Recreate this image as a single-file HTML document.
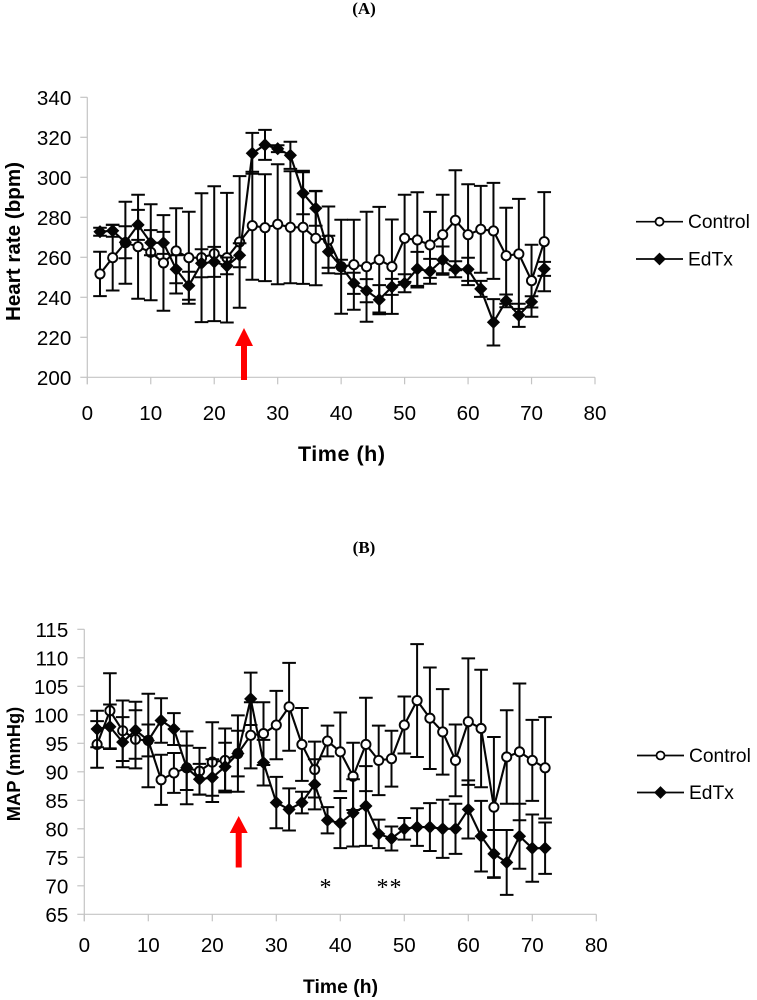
<!DOCTYPE html>
<html>
<head>
<meta charset="utf-8">
<title>Heart rate and MAP over time</title>
<style>
html,body{margin:0;padding:0;background:#fff;}
svg{display:block;}
text{font-family:"Liberation Sans",sans-serif;fill:#000;}
.serif{font-family:"Liberation Serif",serif;}
.tick{font-size:20.6px;}
.title{font-weight:bold;}
.legend{font-size:19.2px;}
</style>
</head>
<body>
<svg id="fig" width="757" height="1000" viewBox="0 0 757 1000" xmlns="http://www.w3.org/2000/svg">
  <text class="serif" x="364" y="14" text-anchor="middle" font-size="17" font-weight="bold">(A)</text>
  <text class="serif" x="364" y="553" text-anchor="middle" font-size="17" font-weight="bold">(B)</text>
  <text class="title" transform="translate(20,241.5) rotate(-90)" text-anchor="middle" font-size="20.6">Heart rate (bpm)</text>
  <text class="title" transform="translate(20,764) rotate(-90)" text-anchor="middle" font-size="18.3">MAP (mmHg)</text>
  <text class="title" x="298" y="461" font-size="21.5" textLength="87" lengthAdjust="spacing">Time (h)</text>
  <text class="title" x="303" y="993" font-size="19.3" textLength="75" lengthAdjust="spacing">Time (h)</text>
  <text class="serif" x="325.5" y="895" text-anchor="middle" font-size="24">*</text>
  <text class="serif" x="389.5" y="895" text-anchor="middle" font-size="24" letter-spacing="1">**</text>
  <g id="chartA"></g>
  <g id="chartB"></g>
  <polygon fill="#ff0000" points="244,328 253,346 247,346 247,380 241,380 241,346 235,346"/>
  <polygon fill="#ff0000" points="238.7,816 247.7,833 241.7,833 241.7,867.5 235.7,867.5 235.7,833 229.7,833"/>
</svg>
<script>
const hours = [2,4,6,8,10,12,14,16,18,20,22,24,26,28,30,32,34,36,38,40,42,44,46,48,50,52,54,56,58,60,62,64,66,68,70,72];
const xTickLabels = [0,10,20,30,40,50,60,70,80];
const hrTickLabels = [200,220,240,260,280,300,320,340];
const mapTickLabels = [65,70,75,80,85,90,95,100,105,110,115];

const hrControl = [251.7,259.8,267.3,265.3,262.5,257.2,263.2,259.8,259.8,261.8,259.8,267.7,275.8,274.8,276.5,275,275,269.5,268.7,255.3,256.3,255.3,258.8,255.3,269.5,268.7,266.2,271.3,278.5,271.3,274,273.2,260.8,261.7,248.3,267.8];
const hrControlErr = [11.1,16.4,20.5,26,24,23.9,21.3,23,32.2,33.7,32.4,32.9,27,26.7,30,28,28.3,23.5,16.7,23.5,22.5,27.5,26.4,23.6,21.8,23.8,16.5,20,25,25.2,21.7,24,24,27.5,18,24.8];
const hrEdTx = [272.8,273.3,267.5,276.2,267.3,267.2,254,245.8,257,257.7,255.7,261,312,316.2,314.3,311,292,284.5,262.8,255.3,247,243.3,238.8,245.2,247,254.2,253,258.7,254,254,244.2,227.5,238.2,231,237.7,254.2];
const hrEdTxErr = [2,3,8,7.5,6.3,5.5,7,7,7,7.5,4.2,6,10.2,7.5,1.7,6.8,10.5,8.7,8,3.5,5.3,5.8,7.3,4,4.5,8.5,6.2,6.7,4,5.8,4,11.6,3.2,5.8,2.8,3.5];

const mapControl = [94.8,100.7,97.2,95.7,95.5,88.6,89.8,90.7,90.1,91.7,92,93.2,96.4,96.7,98.2,101.4,94.8,90.4,95.4,93.5,89.2,94.8,92,92.3,98.2,102.5,99.4,97,92,98.8,97.6,83.8,92.6,93.5,92,90.7];
const mapControlErr = [4.1,6.6,5.3,5.1,8.2,4.4,3.5,6.4,4.1,7,5.6,6.7,5.8,5.5,6,7.7,6.4,4.9,2.7,6.9,5.9,8.2,6.1,4.9,5,9.9,8.9,7.5,6.3,11.1,10.3,12.3,8.2,12,7.1,8.9];
const mapEdTx = [97.5,97.9,95.2,97.3,95.5,99,97.5,90.7,88.7,89,90.9,93.2,102.8,91.6,84.6,83.4,84.6,87.8,81.5,81,82.8,84,79.1,78.3,80,80.3,80.3,80,80,83.4,78.7,75.6,74.1,78.7,76.6,76.6];
const mapEdTxErr = [3.2,3.9,4.4,5,2.8,3.9,2.8,3.9,2.7,3.2,4.2,4,4.6,4,4.5,3.7,1.9,4.4,2.3,4.4,5.9,7,2.5,2.1,1.9,3.3,4.2,5.1,4.4,5.1,6.2,4.2,5.7,5.7,5.9,4.5];

const NS = 'http://www.w3.org/2000/svg';
const AXIS_COLOR = '#c4c4c4';
const INK = '#050505';

function mk(parent, tag, attrs) {
  const el = document.createElementNS(NS, tag);
  for (const k in attrs) el.setAttribute(k, attrs[k]);
  parent.appendChild(el);
  return el;
}

function scale(d0, d1, r0, r1) {
  return v => r0 + (v - d0) * (r1 - r0) / (d1 - d0);
}

function diamondPoints(cx, cy, r) {
  return [cx, cy - r, cx + r, cy, cx, cy + r, cx - r, cy].join(',');
}

function drawSeries(root, key, xs, vals, errs, x, y, isCircle) {
  const g = mk(root, 'g', {});
  
  
  xs.forEach((t, i) => {
    const px = x(t), hi = y(vals[i] + errs[i]), lo = y(vals[i] - errs[i]);
    const bar = mk(g, 'path', {
      d: 'M' + px + ' ' + hi + 'V' + lo + 'M' + (px - 6.8) + ' ' + hi + 'H' + (px + 6.8) + 'M' + (px - 6.8) + ' ' + lo + 'H' + (px + 6.8),
      fill: 'none', stroke: INK, 'stroke-width': 2
    });
    
    
  });
  const line = mk(g, 'polyline', {
    points: xs.map((t, i) => x(t) + ',' + y(vals[i])).join(' '),
    fill: 'none', stroke: INK, 'stroke-width': 2.1
  });
  
  
  xs.forEach((t, i) => {
    let m;
    if (isCircle) {
      m = mk(g, 'circle', { cx: x(t), cy: y(vals[i]), r: 4.6, fill: '#fff', stroke: INK, 'stroke-width': 1.9 });
    } else {
      m = mk(g, 'polygon', { points: diamondPoints(x(t), y(vals[i]), 6.6), fill: INK, stroke: 'none' });
    }
    
    
  });
}

function drawAxes(root, key, x, y, xTicks, yTicks, xLabelY) {
  const x0 = x(xTicks[0]), x1 = x(xTicks[xTicks.length - 1]);
  const yBase = y(yTicks[0]), yTop = y(yTicks[yTicks.length - 1]);
  const axisX = mk(root, 'line', { x1: x0, x2: x1, y1: yBase, y2: yBase, stroke: AXIS_COLOR, 'stroke-width': 1.2 });
  
  
  const axisY = mk(root, 'line', { x1: x0, x2: x0, y1: yTop, y2: yBase + 7, stroke: AXIS_COLOR, 'stroke-width': 1.2 });
  
  
  xTicks.forEach(t => {
    const tick = mk(root, 'line', { x1: x(t), x2: x(t), y1: yBase, y2: yBase + 7, stroke: AXIS_COLOR, 'stroke-width': 1.2 });
    
    
    const label = mk(root, 'text', { x: x(t), y: xLabelY, 'text-anchor': 'middle', class: 'tick' });
    
    
    label.textContent = t;
  });
  yTicks.forEach(v => {
    const tick = mk(root, 'line', { x1: x0 - 7, x2: x0, y1: y(v), y2: y(v), stroke: AXIS_COLOR, 'stroke-width': 1.2 });
    
    
    const label = mk(root, 'text', { x: x0 - 16, y: y(v) + 7.5, 'text-anchor': 'end', class: 'tick' });
    
    
    label.textContent = v;
  });
}

function drawLegend(root, key, lx, yC, yE) {
  const g = mk(root, 'g', {});
  
  
  const l1 = mk(g, 'line', { x1: lx, x2: lx + 47, y1: yC, y2: yC, stroke: INK, 'stroke-width': 1.7 });
  
  
  const c = mk(g, 'circle', { cx: lx + 23.5, cy: yC, r: 4, fill: '#fff', stroke: INK, 'stroke-width': 1.8 });
  
  
  const t1 = mk(g, 'text', { x: lx + 52, y: yC + 6.5, class: 'legend' });
  
  
  t1.textContent = 'Control';
  const l2 = mk(g, 'line', { x1: lx, x2: lx + 47, y1: yE, y2: yE, stroke: INK, 'stroke-width': 1.7 });
  
  
  const d = mk(g, 'polygon', { points: diamondPoints(lx + 23.5, yE, 6.4), fill: INK });
  
  
  const t2 = mk(g, 'text', { x: lx + 52, y: yE + 6.5, class: 'legend' });
  
  
  t2.textContent = 'EdTx';
}

const xA = scale(0, 80, 87.3, 595);
const yA = scale(200, 340, 377.3, 97.3);
const rootA = document.getElementById('chartA');
drawAxes(rootA, 'hr', xA, yA, xTickLabels, hrTickLabels, 420);
drawSeries(rootA, 'hr-control', hours, hrControl, hrControlErr, xA, yA, true);
drawSeries(rootA, 'hr-edtx', hours, hrEdTx, hrEdTxErr, xA, yA, false);
drawLegend(rootA, 'hr', 636, 221.7, 259);

const xB = scale(0, 80, 84.3, 596.3);
const yB = scale(65, 115, 914.3, 629.3);
const rootB = document.getElementById('chartB');
drawAxes(rootB, 'map', xB, yB, xTickLabels, mapTickLabels, 952);
drawSeries(rootB, 'map-control', hours, mapControl, mapControlErr, xB, yB, true);
drawSeries(rootB, 'map-edtx', hours, mapEdTx, mapEdTxErr, xB, yB, false);
drawLegend(rootB, 'map', 637, 755.5, 792.5);
</script>
</body>
</html>
